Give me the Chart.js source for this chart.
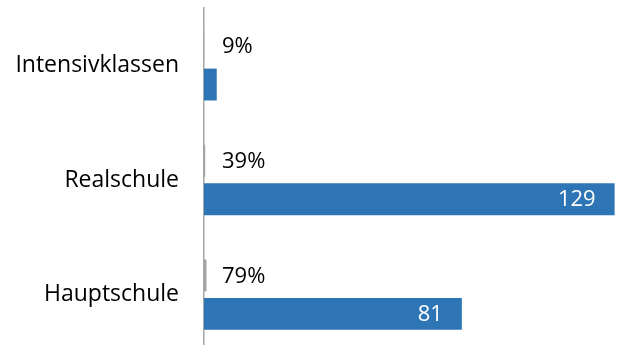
<!DOCTYPE html>
<html>
<head>
<meta charset="utf-8">
<script src="https://cdn.jsdelivr.net/npm/chart.js@4/dist/chart.umd.min.js"></script>
<style>
  html, body { margin: 0; padding: 0; background: #ffffff; overflow: hidden; }
  #wrap { width: 624px; height: 345px; overflow: hidden; position: relative; }
  canvas { display: block; }
</style>
</head>
<body>
<div id="wrap"><canvas id="c" width="624" height="360"></canvas></div>
<script>
// ---- data ----
const categories = ['Intensivklassen', 'Realschule', 'Hauptschule'];
const shareValues = [0.09, 0.39, 0.79];   // grey series (shown as percent labels)
const countValues = [4, 129, 81];         // blue series
const xMax = 131;

const FONT = '"Open Sans", "Noto Sans", sans-serif';
const CAT_SIZE = 23;
const LBL_SIZE = 22;

const labelPlugin = {
  id: 'labels',
  afterDatasetsDraw(chart) {
    const ctx = chart.ctx;
    const area = chart.chartArea;
    ctx.save();
    ctx.font = LBL_SIZE + 'px ' + FONT;
    ctx.textBaseline = 'middle';
    chart.getDatasetMeta(0).data.forEach((bar, i) => {
      ctx.fillStyle = '#000000';
      ctx.textAlign = 'left';
      ctx.fillText(Math.round(shareValues[i] * 100) + '%', area.left + 18, bar.y + 1);
    });
    chart.getDatasetMeta(1).data.forEach((bar, i) => {
      const w = bar.x - bar.base;
      if (w > 60) {
        ctx.fillStyle = '#ffffff';
        ctx.textAlign = 'right';
        ctx.fillText(String(countValues[i]), bar.x - 19, bar.y + 1);
      }
    });
    ctx.restore();
  }
};

new Chart(document.getElementById('c'), {
  type: 'bar',
  data: {
    labels: categories,
    datasets: [
      { data: shareValues, backgroundColor: '#A5A5A5', borderWidth: 0,
        categoryPercentage: 0.67, barPercentage: 0.83 },
      { data: countValues, backgroundColor: '#2E75B6', borderWidth: 0,
        categoryPercentage: 0.67, barPercentage: 0.83 }
    ]
  },
  options: {
    indexAxis: 'y',
    responsive: false,
    maintainAspectRatio: false,
    animation: false,
    devicePixelRatio: 1,
    layout: { padding: { top: 8, bottom: 8, left: 0, right: 3 } },
    plugins: { legend: { display: false }, tooltip: { enabled: false } },
    scales: {
      x: {
        display: false,
        min: 0, max: xMax,
        grid: { display: false }
      },
      y: {
        grid: { display: false, drawTicks: false },
        border: { display: true, color: '#A6A6A6', width: 1.5 },
        ticks: { color: '#000000', padding: 25, font: { family: FONT, size: CAT_SIZE } },
        afterFit(s) { s.width = 204; s.paddingTop = 0; s.paddingBottom = 0; }
      }
    }
  },
  plugins: [labelPlugin]
});
</script>
</body>
</html>
